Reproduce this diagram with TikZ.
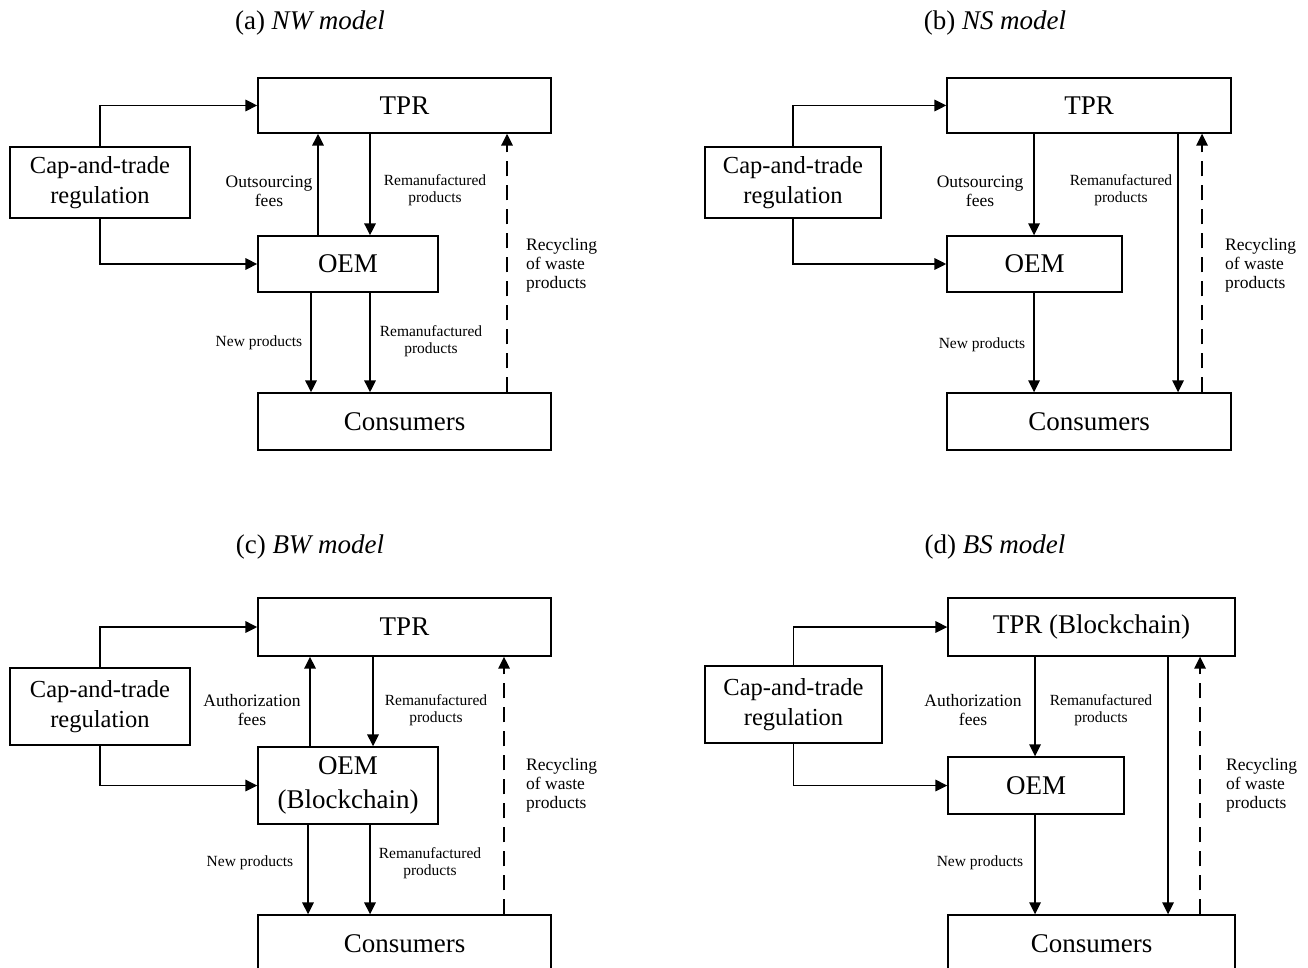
\documentclass[tikz,border=0pt]{standalone}
\usepackage{fontspec}
\setmainfont{Liberation Serif}
\usetikzlibrary{arrows.meta}
\tikzset{
  box/.style={draw, line width=1.4pt, rectangle, inner sep=0pt, align=center, font=\fontsize{27}{34}\selectfont},
  capbox/.style={box, font=\fontsize{24.5}{30}\selectfont},
  arr/.style={line width=1.7pt, -{Triangle[length=12pt,width=11.5pt]}},
  darr/.style={arr, dash pattern=on 15pt off 9pt},
  lblS/.style={font=\fontsize{15.5}{17}\selectfont, align=center, inner sep=0pt},
  lblM/.style={font=\fontsize{17.5}{19}\selectfont, align=center, inner sep=0pt},
  ttl/.style={font=\fontsize{27}{30}\selectfont, inner sep=0pt},
}
\begin{document}
\begin{tikzpicture}[x=1pt,y=-1pt]
\useasboundingbox (0,0) rectangle (1308,968);
\clip (0,0) rectangle (1308,968);
% ---------------- (a) ----------------
\node[ttl] (ta) at (310,23) {(a) \textit{NW model}};
\node[capbox, minimum width=180, minimum height=71] (capA) at (100,182.5) {Cap-and-trade\\regulation};
\node[box, minimum width=293, minimum height=55] (tprA) at (404.5,105.5) {TPR};
\node[box, minimum width=180, minimum height=56] (oemA) at (348,264) {OEM};
\node[box, minimum width=293, minimum height=57] (conA) at (404.5,421.5) {Consumers};
\coordinate (a1) at (318,0);
\coordinate (a2) at (370,0);
\coordinate (a3) at (507,0);
\coordinate (a4) at (311,0);
\draw[arr] (capA.north) |- (tprA.west);
\draw[arr] (capA.south) |- (oemA.west);
\draw[arr] (oemA.north -| a1) -- (tprA.south -| a1);
\draw[arr] (tprA.south -| a2) -- (oemA.north -| a2);
\draw[darr] (conA.north -| a3) -- (tprA.south -| a3);
\draw[arr] (oemA.south -| a4) -- (conA.north -| a4);
\draw[arr] (oemA.south -| a2) -- (conA.north -| a2);
\node[lblM] (la1) at (269,191) {Outsourcing\\fees};
\node[lblS] (la2) at (435,190) {Remanufactured\\products};
\node[lblM, anchor=west, align=left] (la3) at (526,265) {Recycling\\of waste\\products};
\node[lblS] (la4) at (259,343) {New products};
\node[lblS] (la5) at (431,341) {Remanufactured\\products};
% ---------------- (b) ----------------
\node[ttl] (tb) at (995,23) {(b) \textit{NS model}};
\node[capbox, minimum width=176, minimum height=71] (capB) at (793,182.5) {Cap-and-trade\\regulation};
\node[box, minimum width=284, minimum height=55] (tprB) at (1089,105.5) {TPR};
\node[box, minimum width=175, minimum height=56] (oemB) at (1034.5,264) {OEM};
\node[box, minimum width=284, minimum height=57] (conB) at (1089,421.5) {Consumers};
\coordinate (b1) at (1034,0);
\coordinate (b2) at (1178,0);
\coordinate (b3) at (1202,0);
\draw[arr] (capB.north) |- (tprB.west);
\draw[arr] (capB.south) |- (oemB.west);
\draw[arr] (tprB.south -| b1) -- (oemB.north -| b1);
\draw[arr] (oemB.south -| b1) -- (conB.north -| b1);
\draw[arr] (tprB.south -| b2) -- (conB.north -| b2);
\draw[darr] (conB.north -| b3) -- (tprB.south -| b3);
\node[lblM] (lb1) at (980,191) {Outsourcing\\fees};
\node[lblS] (lb2) at (1121,190) {Remanufactured\\products};
\node[lblM, anchor=west, align=left] (lb3) at (1225,265) {Recycling\\of waste\\products};
\node[lblS] (lb4) at (982,345) {New products};
% ---------------- (c) ----------------
\node[ttl] (tc) at (310,547) {(c) \textit{BW model}};
\node[capbox, minimum width=180, minimum height=77] (capC) at (100,706.5) {Cap-and-trade\\regulation};
\node[box, minimum width=293, minimum height=58] (tprC) at (404.5,627) {TPR};
\node[box, minimum width=180, minimum height=77] (oemC) at (348,785.5) {OEM\\(Blockchain)};
\node[box, minimum width=293, minimum height=57] (conC) at (404.5,943.5) {Consumers};
\coordinate (c1) at (310,0);
\coordinate (c2) at (373,0);
\coordinate (c3) at (504,0);
\coordinate (c4) at (308,0);
\coordinate (c5) at (370,0);
\draw[arr] (capC.north) |- (tprC.west);
\draw[arr] (capC.south) |- (oemC.west);
\draw[arr] (oemC.north -| c1) -- (tprC.south -| c1);
\draw[arr] (tprC.south -| c2) -- (oemC.north -| c2);
\draw[darr] (conC.north -| c3) -- (tprC.south -| c3);
\draw[arr] (oemC.south -| c4) -- (conC.north -| c4);
\draw[arr] (oemC.south -| c5) -- (conC.north -| c5);
\node[lblM] (lc1) at (252,710) {Authorization\\fees};
\node[lblS] (lc2) at (436,710) {Remanufactured\\products};
\node[lblM, anchor=west, align=left] (lc3) at (526,785) {Recycling\\of waste\\products};
\node[lblS] (lc4) at (250,863) {New products};
\node[lblS] (lc5) at (430,863) {Remanufactured\\products};
% ---------------- (d) ----------------
\node[ttl] (td) at (995,547) {(d) \textit{BS model}};
\node[capbox, minimum width=177, minimum height=77] (capD) at (793.5,704.5) {Cap-and-trade\\regulation};
\node[box, minimum width=287, minimum height=58] (tprD) at (1091.5,627) {TPR (Blockchain)};
\node[box, minimum width=176, minimum height=57] (oemD) at (1036,785.5) {OEM};
\node[box, minimum width=287, minimum height=57] (conD) at (1091.5,943.5) {Consumers};
\coordinate (d1) at (1035,0);
\coordinate (d2) at (1168,0);
\coordinate (d3) at (1200,0);
\draw[arr] (capD.north) |- (tprD.west);
\draw[arr] (capD.south) |- (oemD.west);
\draw[arr] (tprD.south -| d1) -- (oemD.north -| d1);
\draw[arr] (oemD.south -| d1) -- (conD.north -| d1);
\draw[arr] (tprD.south -| d2) -- (conD.north -| d2);
\draw[darr] (conD.north -| d3) -- (tprD.south -| d3);
\node[lblM] (ld1) at (973,710) {Authorization\\fees};
\node[lblS] (ld2) at (1101,710) {Remanufactured\\products};
\node[lblM, anchor=west, align=left] (ld3) at (1226,785) {Recycling\\of waste\\products};
\node[lblS] (ld4) at (980,863) {New products};
\end{tikzpicture}
\end{document}
